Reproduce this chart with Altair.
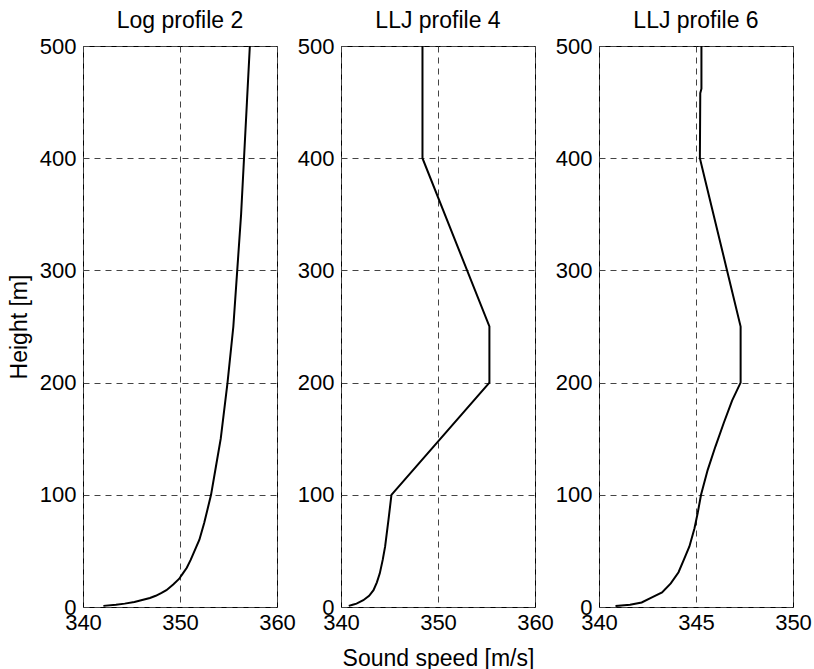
import altair as alt
import pandas as pd

# ---- data ----
log_height = [1, 2, 3, 4.5, 6, 8, 10, 12.5, 15, 20, 25, 30, 35, 42, 50, 60, 75, 100, 125, 150,
              200, 250, 300, 350, 400, 450, 500]
log_speed = [342.1, 343.4, 344.3, 345.3, 346.0, 346.9, 347.5, 348.1, 348.6, 349.3, 349.9,
             350.3, 350.7, 351.1, 351.5, 352.0, 352.5, 353.2, 353.7, 354.2, 354.9, 355.5,
             355.9, 356.3, 356.6, 356.9, 357.2]

llj4_height = [1, 2, 3, 6, 10, 15, 22, 30, 42, 54, 78, 100, 200, 250, 400, 500]
llj4_speed = [340.8, 341.2, 341.6, 342.3, 342.9, 343.35, 343.7, 344.0, 344.3, 344.55, 344.9,
              345.2, 355.3, 355.3, 348.4, 348.4]

llj6_height = [1, 2, 4, 8, 13, 21, 31, 42, 54, 70, 84, 100, 122, 143, 164, 184, 200, 250,
               300, 380, 400, 458, 462, 500]
llj6_speed = [340.85, 341.6, 342.2, 342.65, 343.25, 343.7, 344.1, 344.37, 344.66, 344.92,
              345.09, 345.26, 345.6, 346.0, 346.43, 346.86, 347.3, 347.3, 346.6, 345.48,
              345.2, 345.22, 345.28, 345.28]

titles = ["Log profile 2", "LLJ profile 4", "LLJ profile 6"]
x_domains = [[340, 360], [340, 360], [340, 350]]
x_ticks = [[340, 350, 360], [340, 350, 360], [340, 345, 350]]
y_ticks = [0, 100, 200, 300, 400, 500]

FONT = "Liberation Sans"
FS = 22
TFS = 23


def panel(h, c, title, xdom, xt, ytitle, xtitle):
    df = pd.DataFrame({"h": h, "c": c, "i": list(range(len(h)))})
    x_kwargs = dict(values=xt, grid=True, gridDash=[6, 5], gridColor="#444", gridWidth=1,
                    ticks=False, domain=False, labelFlush=False, labelOverlap=False,
                    labelPadding=5, format="d", titlePadding=14)
    y_kwargs = dict(values=y_ticks, grid=True, gridDash=[6, 5], gridColor="#444", gridWidth=1,
                    ticks=False, domain=False, labelFlush=False, labelOverlap=False,
                    labelPadding=7, format="d", titlePadding=8)
    return alt.Chart(df).mark_line(color="black", strokeWidth=2).encode(
        x=alt.X("c:Q", scale=alt.Scale(domain=xdom, nice=False, zero=False),
                axis=alt.Axis(**x_kwargs), title=xtitle),
        y=alt.Y("h:Q", scale=alt.Scale(domain=[0, 500], nice=False, zero=False),
                axis=alt.Axis(**y_kwargs), title=ytitle),
        order=alt.Order("i:Q"),
    ).properties(
        width=194, height=561,
        title=alt.TitleParams(text=title, fontSize=TFS, font=FONT, fontWeight="normal",
                              color="black", offset=2),
    )


p1 = panel(log_height, log_speed, titles[0], x_domains[0], x_ticks[0], "Height [m]", None)
p2 = panel(llj4_height, llj4_speed, titles[1], x_domains[1], x_ticks[1], None, "Sound speed [m/s]")
p3 = panel(llj6_height, llj6_speed, titles[2], x_domains[2], x_ticks[2], None, None)

chart = alt.hconcat(p1, p2, p3, spacing=64, bounds="flush").properties(
    padding={"left": 7, "top": 9, "right": 2, "bottom": 0},
    background="white",
).configure_view(
    stroke="black", strokeWidth=1
).configure_axis(
    labelFont=FONT, labelFontSize=FS, labelColor="black",
    titleFont=FONT, titleFontSize=TFS, titleFontWeight="normal", titleColor="black",
)

chart.save("out.html", embed_options={"renderer": "svg", "actions": False})
